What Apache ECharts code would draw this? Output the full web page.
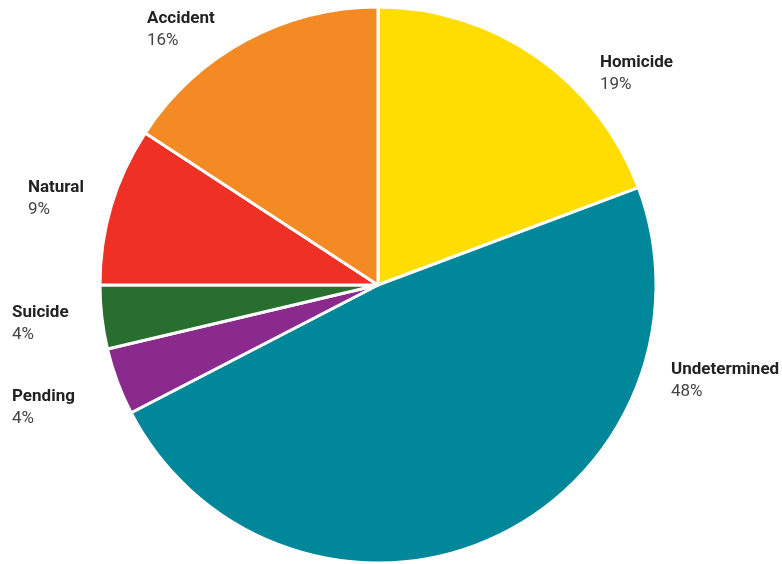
<!DOCTYPE html>
<html>
<head>
<meta charset="utf-8">
<script src="https://cdn.jsdelivr.net/npm/echarts@6/dist/echarts.min.js"></script>
<style>
  html, body { margin: 0; padding: 0; background: #fff; }
  #chart { width: 782px; height: 564px; }
</style>
</head>
<body>
<div id="chart"></div>
<script>
// manner of death shares, clockwise from the top
var categories = ['Homicide', 'Undetermined', 'Pending', 'Suicide', 'Natural', 'Accident'];
var shares = [19.3, 48.1, 3.9, 3.7, 9.2, 15.8];
var shareLabels = ['19%', '48%', '4%', '4%', '9%', '16%'];
var sliceColors = ['#FFDD00', '#008799', '#8B2A8D', '#286F2F', '#EE3124', '#F48A23'];

// where each label's text block starts (left, top)
var labelSpots = [[600, 52], [671, 359], [12, 386], [12, 302], [28, 177], [147, 8]];

var chart = echarts.init(document.getElementById('chart'));

var pieData = [];
for (var i = 0; i < categories.length; i++) {
  pieData.push({
    name: categories[i],
    value: shares[i],
    itemStyle: { color: sliceColors[i] }
  });
}

chart.setOption({
  animation: false,
  series: [{
    type: 'pie',
    center: [378, 285],
    radius: [0, 278],
    startAngle: 90,
    clockwise: true,
    data: pieData,
    itemStyle: {
      borderColor: '#fff',
      borderWidth: 3
    },
    label: {
      show: true,
      position: 'outside',
      alignTo: 'none',
      overflow: 'none',
      formatter: function (p) {
        return '{n|' + p.name + '}\n{p|' + shareLabels[p.dataIndex] + '}';
      },
      rich: {
        n: {
          fontFamily: 'Roboto, sans-serif',
          fontWeight: 'bold',
          fontSize: 17,
          color: '#222',
          lineHeight: 22
        },
        p: {
          fontFamily: 'Roboto, sans-serif',
          fontSize: 17,
          color: '#444',
          lineHeight: 22
        }
      }
    },
    labelLine: { show: false },
    labelLayout: function (params) {
      var spot = labelSpots[params.dataIndex];
      return {
        x: spot[0],
        y: spot[1],
        align: 'left',
        verticalAlign: 'top',
        width: 200
      };
    }
  }]
});
</script>
</body>
</html>
